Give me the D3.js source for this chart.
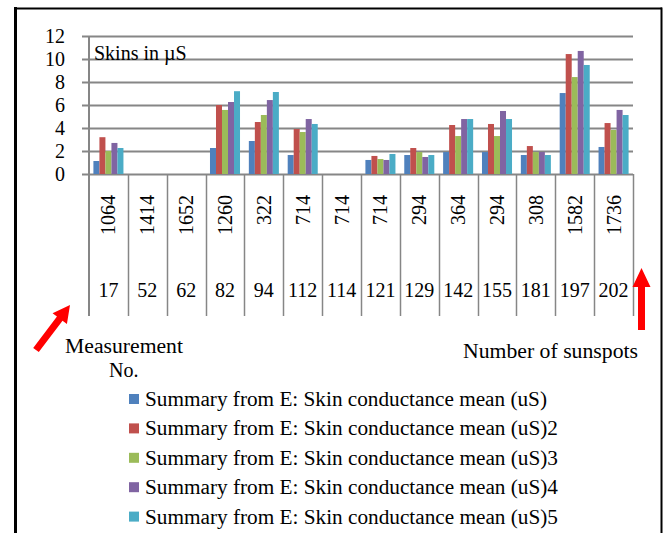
<!DOCTYPE html>
<html>
<head>
<meta charset="utf-8">
<script src="https://cdn.jsdelivr.net/npm/d3@7"></script>
<style>
  body { margin: 0; background: #fff; }
</style>
</head>
<body>
<div id="chart"></div>
<script>
;(function () {

    // measurement numbers (rotated row) and sunspot counts (bottom row)
    var measurementNo = ['1064', '1414', '1652', '1260', '322', '714', '714', '714', '294', '364', '294', '308', '1582', '1736'];
    var sunspots = ['17', '52', '62', '82', '94', '112', '114', '121', '129', '142', '155', '181', '197', '202'];

    var seriesNames = [
        'Summary from E: Skin conductance mean (uS)',
        'Summary from E: Skin conductance mean (uS)2',
        'Summary from E: Skin conductance mean (uS)3',
        'Summary from E: Skin conductance mean (uS)4',
        'Summary from E: Skin conductance mean (uS)5'
    ];
    var seriesColors = ['#4F81BD', '#C0504D', '#9BBB59', '#8064A2', '#4BACC6'];

    var s1 = [1.13, null, null, 2.26, 2.87, 1.65, null, 1.22, 1.65, 1.91, 1.91, 1.65, 7.04, 2.35];
    var s2 = [3.2, null, null, 6.0, 4.52, 3.91, null, 1.57, 2.26, 4.26, 4.35, 2.43, 10.43, 4.43];
    var s3 = [2.0, null, null, 5.57, 5.13, 3.65, null, 1.3, 1.91, 3.3, 3.3, 1.91, 8.43, 3.83];
    var s4 = [2.7, null, null, 6.26, 6.43, 4.78, null, 1.22, 1.48, 4.78, 5.48, 1.91, 10.7, 5.57];
    var s5 = [2.26, null, null, 7.2, 7.13, 4.35, null, 1.74, 1.65, 4.78, 4.78, 1.65, 9.48, 5.13];
    var series = [s1, s2, s3, s4, s5];

    var yTicks = [0, 2, 4, 6, 8, 10, 12];

    var width = 664
        , height = 533
        , left = 89
        , right = 633
        , top = 36
        , bottom = 174
        , sepBottom = 316
        , gridColor = '#868686'
        , serif = "'Liberation Serif', 'DejaVu Serif', serif";

    var svg = d3.select('#chart').append('svg')
        .attr('width', width)
        .attr('height', height)
        .attr('font-family', serif)
        .style('font-family', serif);

    svg.append('rect').attr('width', width).attr('height', height).attr('fill', '#fff');

    // outer frame
    svg.append('line').attr('x1', 15.5).attr('x2', 15.5).attr('y1', 7).attr('y2', height)
        .attr('stroke', '#000').attr('stroke-width', 3);
    svg.append('line').attr('x1', 14).attr('x2', 662).attr('y1', 8.5).attr('y2', 8.5)
        .attr('stroke', '#000').attr('stroke-width', 2);
    svg.append('line').attr('x1', 661.5).attr('x2', 661.5).attr('y1', 7.5).attr('y2', height)
        .attr('stroke', '#000').attr('stroke-width', 2);

    var x = d3.scaleBand()
        .domain(d3.range(measurementNo.length))
        .range([left, right])
        .paddingInner(0.227)
        .paddingOuter(0.1135);

    var xCat = d3.scaleBand()
        .domain(d3.range(measurementNo.length))
        .range([left, right]);

    var xSub = d3.scaleBand()
        .domain(d3.range(series.length))
        .range([0, x.bandwidth()]);

    var y = d3.scaleLinear().domain([0, 12]).range([bottom, top]);

    // gridlines
    var gy = svg.append('g')
        .attr('transform', 'translate(' + right + ',0)')
        .call(d3.axisLeft(y).tickValues(yTicks).tickSize(right - left + 7).tickFormat(''));
    gy.select('.domain').remove();
    gy.selectAll('.tick line').attr('stroke', gridColor).attr('stroke-width', 2);

    // y labels
    svg.append('g').selectAll('text')
        .data(yTicks)
        .enter().append('text')
        .attr('x', 65)
        .attr('y', function (d) { return y(d); })
        .attr('dy', '0.36em')
        .attr('text-anchor', 'end')
        .style('font-size', '20px')
        .text(function (d) { return d; });

    // vertical axis and category separators
    svg.append('line')
        .attr('x1', left).attr('x2', left).attr('y1', top).attr('y2', sepBottom)
        .attr('stroke', gridColor).attr('stroke-width', 2);
    svg.append('g').selectAll('line')
        .data(d3.range(1, measurementNo.length + 1))
        .enter().append('line')
        .attr('x1', function (d) { return Math.round(left + d * xCat.bandwidth()) + 0.5; })
        .attr('x2', function (d) { return Math.round(left + d * xCat.bandwidth()) + 0.5; })
        .attr('y1', bottom)
        .attr('y2', sepBottom)
        .attr('stroke', gridColor)
        .attr('stroke-width', 1.5);

    // bars
    series.forEach(function (values, si) {
        svg.append('g')
            .attr('fill', seriesColors[si])
            .selectAll('rect')
            .data(values.map(function (v, i) { return { i: i, v: v }; })
                .filter(function (d) { return d.v !== null; }))
            .enter().append('rect')
            .attr('x', function (d) { return x(d.i) + xSub(si); })
            .attr('width', xSub.bandwidth())
            .attr('y', function (d) { return y(d.v); })
            .attr('height', function (d) { return bottom - y(d.v); });
    });

    // category labels
    svg.append('g').selectAll('text')
        .data(measurementNo)
        .enter().append('text')
        .attr('transform', function (d, i) {
            return 'translate(' + (xCat(i) + xCat.bandwidth() / 2) + ',195) rotate(-90)';
        })
        .attr('text-anchor', 'end')
        .attr('dy', '0.35em')
        .style('font-size', '20px')
        .text(function (d) { return d; });

    svg.append('g').selectAll('text')
        .data(sunspots)
        .enter().append('text')
        .attr('x', function (d, i) { return xCat(i) + xCat.bandwidth() / 2; })
        .attr('y', 297)
        .attr('text-anchor', 'middle')
        .style('font-size', '20px')
        .text(function (d) { return d; });

    // title inside plot
    svg.append('text')
        .attr('x', 94)
        .attr('y', 60)
        .style('font-size', '20px')
        .text('Skins in µS');

    // annotations
    svg.append('text').attr('x', 65).attr('y', 353).style('font-size', '20px')
        .attr('textLength', 118).attr('lengthAdjust', 'spacingAndGlyphs')
        .text('Measurement');
    svg.append('text').attr('x', 109).attr('y', 377).style('font-size', '20px')
        .text('No.');
    svg.append('text').attr('x', 463).attr('y', 358).style('font-size', '20px')
        .attr('textLength', 175).attr('lengthAdjust', 'spacingAndGlyphs')
        .text('Number of sunspots');

    // red arrows
    function arrow(x0, y0, x1, y1, shaft, head, headLen) {
        var dx = x1 - x0, dy = y1 - y0, len = Math.sqrt(dx * dx + dy * dy);
        var ux = dx / len, uy = dy / len, nx = -uy, ny = ux;
        var bx = x1 - ux * headLen, by = y1 - uy * headLen;
        var pts = [
            [x0 + nx * shaft, y0 + ny * shaft],
            [bx + nx * shaft, by + ny * shaft],
            [bx + nx * head, by + ny * head],
            [x1, y1],
            [bx - nx * head, by - ny * head],
            [bx - nx * shaft, by - ny * shaft],
            [x0 - nx * shaft, y0 - ny * shaft]
        ];
        svg.append('path')
            .attr('d', d3.line()(pts) + 'Z')
            .attr('fill', '#ff0000');
    }
    arrow(36, 350, 70, 305, 3.5, 9, 17);
    arrow(641.5, 330, 641.5, 268, 3.5, 9, 19);

    // legend
    var legend = svg.append('g').selectAll('g')
        .data(seriesNames)
        .enter().append('g')
        .attr('transform', function (d, i) { return 'translate(129,' + (400 + i * 29.4) + ')'; });
    legend.append('rect')
        .attr('x', 0).attr('y', -6).attr('width', 10).attr('height', 10)
        .attr('fill', function (d, i) { return seriesColors[i]; });
    legend.append('text')
        .attr('x', 16)
        .attr('y', 6)
        .style('font-size', '20px')
        .attr('textLength', function (d, i) { return i === 0 ? 402 : 413; })
        .attr('lengthAdjust', 'spacingAndGlyphs')
        .text(function (d) { return d; });

}());
</script>
</body>
</html>
